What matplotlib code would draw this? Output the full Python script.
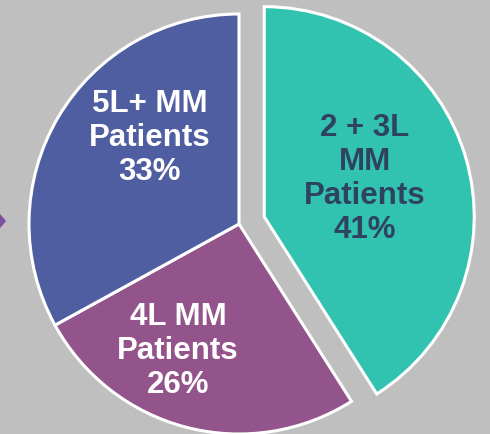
import matplotlib.pyplot as plt
from matplotlib.patches import Polygon

# slice data (clockwise from top)
labels = ['2 + 3L\nMM\nPatients\n41%', '4L MM\nPatients\n26%', '5L+ MM\nPatients\n33%']
shares = [41, 26, 33]
colors = ['#31C3B0', '#93548B', '#4F5DA1']
text_colors = ['#2F4360', 'white', 'white']
explode = [0.125, 0, 0]
label_pos = [(0.60, 0.22), (-0.29, -0.60), (-0.424, 0.415)]

fig = plt.figure(figsize=(4.9, 4.35), dpi=100, facecolor='#BFBFBF')
ax = fig.add_axes([0, 0, 1, 1])
ax.set_facecolor('#BFBFBF')

ax.pie(shares, colors=colors, explode=explode, startangle=90, counterclock=False,
       radius=1, wedgeprops=dict(edgecolor='white', linewidth=2.2))

for lab, (x, y), c in zip(labels, label_pos, text_colors):
    ax.text(x, y, lab, ha='center', va='center', color=c, fontsize=22.5,
            fontweight='bold', family='Liberation Sans', linespacing=1.17)

# small arrow marker on the left edge
ax.add_patch(Polygon([(-1.14, 0.05), (-1.109, 0.014), (-1.14, -0.022)],
                     closed=True, color='#7F4F9F', lw=0))

ax.set_xlim(-1.138, 1.195)
ax.set_ylim(-1.0, 1.0714)
ax.set_aspect('equal')
ax.axis('off')

fig.savefig('out.png', dpi=100, facecolor=fig.get_facecolor())
